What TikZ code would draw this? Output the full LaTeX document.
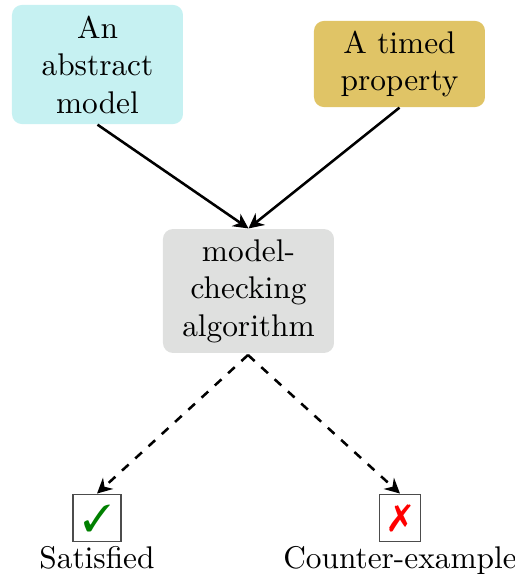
\documentclass[tikz,border=0pt]{standalone}
\usepackage{pifont}
\usetikzlibrary{arrows.meta}
\definecolor{cyanbox}{HTML}{C6F1F2}
\definecolor{goldbox}{HTML}{E0C466}
\definecolor{graybox}{HTML}{DFE0DF}
\definecolor{okgreen}{HTML}{008000}
\begin{document}
\begin{tikzpicture}[x=0.33333pt,y=-0.33333pt,
  every node/.style={font=\fontsize{10.45pt}{12.5pt}\selectfont},
  box/.style={rounded corners=3.3pt,text width=47pt,align=center,inner xsep=5pt,inner ysep=3pt,minimum width=57pt},
  flow/.style={line width=0.85pt,-{Stealth[length=5pt,width=5pt]}},
  result/.style={line width=0.85pt,dashed,dash pattern=on 3pt off 3pt,-{Stealth[length=5pt,width=5pt]}},
  markbox/.style={draw=black!70,line width=0.4pt,inner sep=3.3pt,minimum height=15.9pt,font=\fontsize{12.5pt}{14pt}\selectfont},
  reslabel/.style={inner sep=1pt}]
\useasboundingbox (0,0) rectangle (515,574);
\node[box,fill=cyanbox,minimum height=39.7pt] (model) at (97.5,64.5) {An abstract model};
\node[box,fill=goldbox,minimum height=28.7pt] (prop) at (399.5,64) {A timed property};
\node[box,fill=graybox,minimum height=41.3pt] (algo) at (248.5,291) {model-checking algorithm};
\node[markbox] (sat) at (97,518) {\textcolor{okgreen}{\ding{51}}};
\node[markbox] (cex) at (400,518) {\textcolor{red}{\ding{55}}};
\node[reslabel,anchor=north] (satl) at (sat.south) {Satisfied};
\node[reslabel,anchor=north] (cexl) at (cex.south) {Counter-example};
\coordinate (split) at (248,355);
\draw[flow] (model.south) -- (algo.north);
\draw[flow] (prop.south) -- (algo.north);
\draw[result] (split) -- (sat.north);
\draw[result] (split) -- (cex.north);
\end{tikzpicture}
\end{document}
